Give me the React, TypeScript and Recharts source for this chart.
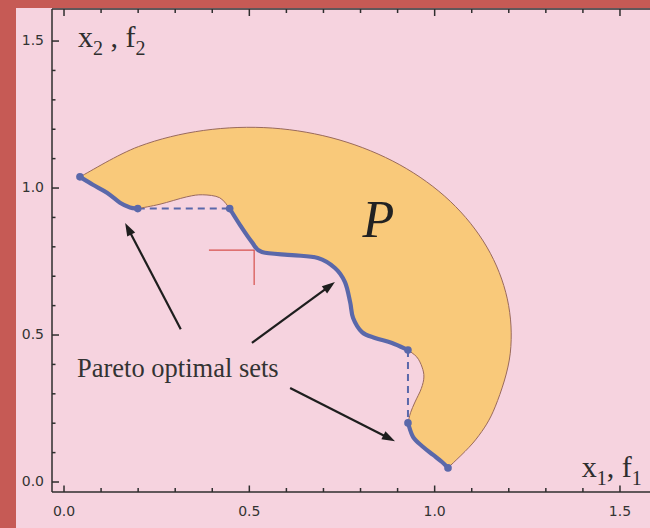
import React from 'react';
import {
  ComposedChart,
  XAxis,
  YAxis,
  Line,
  Scatter,
  ReferenceLine,
  ReferenceDot,
} from 'recharts';

// ---- data (objective space x1,f1 / x2,f2) ----

// outer boundary of the feasible region P, upper-left end to lower-right end
const outerArc = [
  { x: 0.043, y: 1.038 },
  { x: 0.201, y: 1.141 },
  { x: 0.377, y: 1.196 },
  { x: 0.562, y: 1.204 },
  { x: 0.742, y: 1.164 },
  { x: 0.906, y: 1.079 },
  { x: 1.042, y: 0.955 },
  { x: 1.141, y: 0.799 },
  { x: 1.196, y: 0.623 },
  { x: 1.204, y: 0.438 },
  { x: 1.164, y: 0.258 },
  { x: 1.112, y: 0.146 },
  { x: 1.036, y: 0.048 },
];

// Pareto optimal pieces of the lower-left boundary
const paretoTop = [
  { x: 0.043, y: 1.038 },
  { x: 0.078, y: 1.011 },
  { x: 0.116, y: 0.984 },
  { x: 0.151, y: 0.95 },
  { x: 0.178, y: 0.934 },
  { x: 0.199, y: 0.93 },
];

const paretoMid = [
  { x: 0.447, y: 0.93 },
  { x: 0.475, y: 0.874 },
  { x: 0.507, y: 0.816 },
  { x: 0.534, y: 0.782 },
  { x: 0.615, y: 0.772 },
  { x: 0.685, y: 0.762 },
  { x: 0.731, y: 0.728 },
  { x: 0.758, y: 0.68 },
  { x: 0.772, y: 0.612 },
  { x: 0.78, y: 0.558 },
  { x: 0.804, y: 0.51 },
  { x: 0.839, y: 0.49 },
  { x: 0.885, y: 0.473 },
  { x: 0.928, y: 0.449 },
];

const paretoLow = [
  { x: 0.928, y: 0.201 },
  { x: 0.942, y: 0.153 },
  { x: 0.969, y: 0.119 },
  { x: 0.996, y: 0.092 },
  { x: 1.02, y: 0.068 },
  { x: 1.036, y: 0.048 },
];

// dominated pieces of the boundary between the Pareto pieces
const humpCD = [
  { x: 0.199, y: 0.93 },
  { x: 0.259, y: 0.945 },
  { x: 0.331, y: 0.97 },
  { x: 0.374, y: 0.977 },
  { x: 0.42, y: 0.967 },
  { x: 0.447, y: 0.93 },
];

const bulgeEF = [
  { x: 0.928, y: 0.449 },
  { x: 0.952, y: 0.425 },
  { x: 0.966, y: 0.391 },
  { x: 0.971, y: 0.357 },
  { x: 0.964, y: 0.318 },
  { x: 0.947, y: 0.272 },
  { x: 0.935, y: 0.236 },
  { x: 0.928, y: 0.201 },
];

// dashed gaps between Pareto pieces
const gapCD = [
  { x: 0.199, y: 0.93 },
  { x: 0.447, y: 0.93 },
];
const gapEF = [
  { x: 0.928, y: 0.449 },
  { x: 0.928, y: 0.201 },
];

// end points of the Pareto pieces
const endPoints = [
  { x: 0.043, y: 1.038 },
  { x: 0.199, y: 0.93 },
  { x: 0.447, y: 0.93 },
  { x: 0.928, y: 0.449 },
  { x: 0.928, y: 0.201 },
  { x: 1.036, y: 0.048 },
];

// annotation arrows: tail -> tip
const arrows = [
  { from: { x: 0.315, y: 0.52 }, to: { x: 0.165, y: 0.881 } },
  { from: { x: 0.507, y: 0.473 }, to: { x: 0.731, y: 0.68 } },
  { from: { x: 0.61, y: 0.32 }, to: { x: 0.893, y: 0.139 } },
];

// small red corner mark
const cornerMark = [
  { x: 0.391, y: 0.789 },
  { x: 0.513, y: 0.789 },
  { x: 0.513, y: 0.67 },
];

const xTicks = [0, 0.1, 0.2, 0.3, 0.4, 0.5, 0.6, 0.7, 0.8, 0.9, 1.0, 1.1, 1.2, 1.3, 1.4, 1.5];
const yTicks = [0, 0.1, 0.2, 0.3, 0.4, 0.5, 0.6, 0.7, 0.8, 0.9, 1.0, 1.1, 1.2, 1.3, 1.4, 1.5];

const xDomain: [number, number] = [-0.0324, 1.581];
const yDomain: [number, number] = [-0.034, 1.609];

// ---- styling ----
const PINK = '#f6d3df';
const FRAME = '#c65a55';
const INK = '#2e2e2e';
const BLUE = '#5a68aa';
const FILL = '#f9c97a';
const EDGE = '#9a6a5c';
const SERIF = '"Liberation Serif", "DejaVu Serif", serif';
const SANS = '"DejaVu Sans", sans-serif';

// closed region: outer arc, then the lower boundary walked back to the start
const regionPieces = [
  outerArc,
  [...paretoLow].reverse(),
  [...bulgeEF].reverse(),
  [...paretoMid].reverse(),
  [...humpCD].reverse(),
  [...paretoTop].reverse(),
];
const regionBoundary = regionPieces.flat();
const pieceSizes = regionPieces.map((p) => p.length);

type Pt = { x: number; y: number };

// Catmull-Rom spline through pixel points, as cubic segments
function splineThrough(pts: Pt[]): string {
  let d = '';
  for (let i = 0; i < pts.length - 1; i++) {
    const p0 = pts[Math.max(0, i - 1)];
    const p1 = pts[i];
    const p2 = pts[i + 1];
    const p3 = pts[Math.min(pts.length - 1, i + 2)];
    const c1x = p1.x + (p2.x - p0.x) / 6;
    const c1y = p1.y + (p2.y - p0.y) / 6;
    const c2x = p2.x - (p3.x - p1.x) / 6;
    const c2y = p2.y - (p3.y - p1.y) / 6;
    d += ` C${c1x},${c1y} ${c2x},${c2y} ${p2.x},${p2.y}`;
  }
  return d;
}

function RegionPath(props: any) {
  const pts: Pt[] = props.points || [];
  if (!pts.length) return null;
  let d = '';
  let i = 0;
  pieceSizes.forEach((n, k) => {
    const seg = pts.slice(i, i + n);
    i += n;
    if (k === 0) d += `M${seg[0].x},${seg[0].y}`;
    d += splineThrough(seg);
  });
  d += ' Z';
  return <path d={d} fill={FILL} stroke={EDGE} strokeWidth={1} />;
}

function SmoothStroke(props: any) {
  const pts: Pt[] = props.points || [];
  if (!pts.length) return null;
  const d = `M${pts[0].x},${pts[0].y}` + splineThrough(pts);
  return (
    <path d={d} fill="none" stroke={BLUE} strokeWidth={4.2} strokeLinecap="round" strokeLinejoin="round" />
  );
}

const noMarker = () => <g />;

const EndDot = (props: any) => <circle cx={props.cx} cy={props.cy} r={3.8} fill={BLUE} />;

function Arrow(props: any) {
  const { x1, y1, x2, y2 } = props;
  if ([x1, y1, x2, y2].some((v) => typeof v !== 'number' || isNaN(v))) return null;
  const ang = Math.atan2(y2 - y1, x2 - x1);
  const len = 13;
  const half = 4.5;
  const bx = x2 - len * Math.cos(ang);
  const by = y2 - len * Math.sin(ang);
  const nx = -Math.sin(ang);
  const ny = Math.cos(ang);
  return (
    <g>
      <line x1={x1} y1={y1} x2={bx + 2 * Math.cos(ang)} y2={by + 2 * Math.sin(ang)} stroke="#1e1e1e" strokeWidth={2.2} />
      <polygon
        points={`${x2},${y2} ${bx + nx * half},${by + ny * half} ${bx - nx * half},${by - ny * half}`}
        fill="#1e1e1e"
      />
    </g>
  );
}

const isMajor = (v: number) => Math.abs(v * 2 - Math.round(v * 2)) < 1e-6;

function BottomTick(props: any) {
  const { x, y, payload } = props;
  const v = payload.value as number;
  const major = isMajor(v);
  return (
    <g>
      <line x1={x} y1={y} x2={x} y2={y - (major ? 6.5 : 4)} stroke={INK} strokeWidth={1.5} />
      {major && (
        <text x={x} y={y + 19} textAnchor="middle" dominantBaseline="central" fontFamily={SANS} fontSize={14} fill="#333">
          {v.toFixed(1)}
        </text>
      )}
    </g>
  );
}

function TopTick(props: any) {
  const { x, y, payload } = props;
  const major = isMajor(payload.value as number);
  return <line x1={x} y1={y} x2={x} y2={y + (major ? 7 : 4)} stroke={INK} strokeWidth={1.5} />;
}

function LeftTick(props: any) {
  const { x, y, payload } = props;
  const v = payload.value as number;
  const major = isMajor(v);
  return (
    <g>
      <line x1={x} y1={y} x2={x + (major ? 7 : 3.5)} y2={y} stroke={INK} strokeWidth={1.5} />
      {major && (
        <text x={x - 8} y={y - 1} textAnchor="end" dominantBaseline="central" fontFamily={SANS} fontSize={14} fill="#333">
          {v.toFixed(1)}
        </text>
      )}
    </g>
  );
}

// axis titles and region label, anchored at data positions
const yTitleAt = { x: 0.038, y: 1.48 };
const xTitleAt = { x: 1.397, y: 0.017 };
const regionLabelAt = { x: 0.805, y: 0.835 };
const noteAt = { x: 0.035, y: 0.357 };

const YTitle = (p: any) => (
  <text x={p.cx} y={p.cy} fontFamily={SERIF} fontSize={30} fill={INK}>
    <tspan>x</tspan>
    <tspan dy={8} fontSize={20}>2</tspan>
    <tspan dy={-8}> , f</tspan>
    <tspan dy={8} fontSize={20}>2</tspan>
  </text>
);

const XTitle = (p: any) => (
  <text x={p.cx} y={p.cy} fontFamily={SERIF} fontSize={30} fill={INK}>
    <tspan>x</tspan>
    <tspan dy={8} fontSize={20}>1</tspan>
    <tspan dy={-8}>, f</tspan>
    <tspan dy={8} fontSize={20}>1</tspan>
  </text>
);

const RegionLabel = (p: any) => (
  <text x={p.cx} y={p.cy} fontFamily={SERIF} fontStyle="italic" fontSize={52} fill="#222">
    P
  </text>
);

const Note = (p: any) => (
  <text x={p.cx} y={p.cy} fontFamily={SERIF} fontSize={26.5} fill="#333">
    Pareto optimal sets
  </text>
);

export default function App() {
  return (
    <div style={{ position: 'absolute', left: 0, top: 0, width: 650, height: 528, background: FRAME, overflow: 'hidden' }}>
      <div style={{ position: 'absolute', left: 16, top: 8, right: 0, bottom: 0, background: PINK }} />
      <div style={{ position: 'absolute', left: 0, top: 0 }}>
        <ComposedChart width={650} height={528} margin={{ top: 0, right: 0, bottom: 0, left: 0 }}>
          <XAxis
            xAxisId="b"
            type="number"
            dataKey="x"
            orientation="bottom"
            domain={xDomain}
            allowDataOverflow
            ticks={xTicks}
            interval={0}
            height={36}
            tickSize={0}
            tickMargin={0}
            tickLine={false}
            tick={BottomTick}
            axisLine={{ stroke: INK, strokeWidth: 1.5 }}
          />
          <XAxis
            xAxisId="t"
            type="number"
            dataKey="x"
            orientation="top"
            domain={xDomain}
            allowDataOverflow
            ticks={xTicks}
            interval={0}
            height={9}
            tickSize={0}
            tickMargin={0}
            tickLine={false}
            tick={TopTick}
            axisLine={{ stroke: INK, strokeWidth: 1.5 }}
          />
          <YAxis
            type="number"
            dataKey="y"
            domain={yDomain}
            allowDataOverflow
            ticks={yTicks}
            interval={0}
            width={52}
            tickSize={0}
            tickMargin={0}
            tickLine={false}
            tick={LeftTick}
            axisLine={{ stroke: INK, strokeWidth: 1.5 }}
          />

          <Scatter
            xAxisId="b"
            data={regionBoundary}
            dataKey="y"
            line={RegionPath}
            shape={noMarker}
            isAnimationActive={false}
          />

          <Line xAxisId="b" data={gapCD} dataKey="y" type="linear" stroke={BLUE} strokeWidth={2} strokeDasharray="7 5" dot={false} isAnimationActive={false} />
          <Line xAxisId="b" data={gapEF} dataKey="y" type="linear" stroke={BLUE} strokeWidth={2} strokeDasharray="7 5" dot={false} isAnimationActive={false} />

          <Scatter xAxisId="b" data={paretoTop} dataKey="y" line={SmoothStroke} shape={noMarker} isAnimationActive={false} />
          <Scatter xAxisId="b" data={paretoMid} dataKey="y" line={SmoothStroke} shape={noMarker} isAnimationActive={false} />
          <Scatter xAxisId="b" data={paretoLow} dataKey="y" line={SmoothStroke} shape={noMarker} isAnimationActive={false} />

          <Scatter xAxisId="b" data={endPoints} dataKey="y" shape={EndDot} isAnimationActive={false} />

          <ReferenceLine xAxisId="b" segment={[cornerMark[0], cornerMark[1]]} stroke="#d6504c" strokeWidth={1.2} />
          <ReferenceLine xAxisId="b" segment={[cornerMark[1], cornerMark[2]]} stroke="#d6504c" strokeWidth={1.2} />

          {arrows.map((a, i) => (
            <ReferenceLine key={i} xAxisId="b" segment={[a.from, a.to]} shape={Arrow} />
          ))}

          <ReferenceDot xAxisId="b" x={yTitleAt.x} y={yTitleAt.y} shape={YTitle} />
          <ReferenceDot xAxisId="b" x={xTitleAt.x} y={xTitleAt.y} shape={XTitle} />
          <ReferenceDot xAxisId="b" x={regionLabelAt.x} y={regionLabelAt.y} shape={RegionLabel} />
          <ReferenceDot xAxisId="b" x={noteAt.x} y={noteAt.y} shape={Note} />
        </ComposedChart>
      </div>
    </div>
  );
}
